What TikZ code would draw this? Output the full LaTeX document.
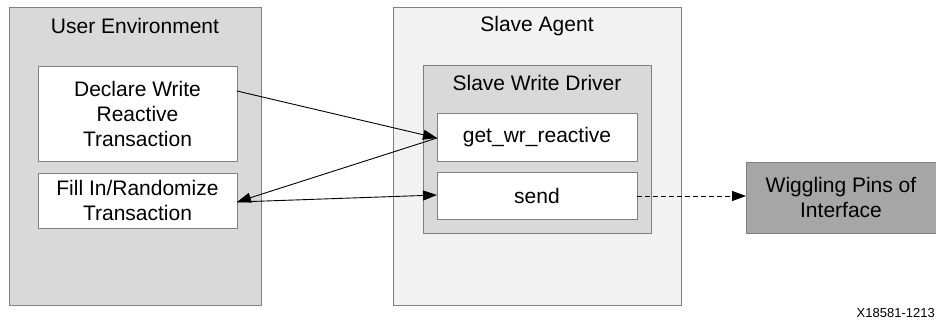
\documentclass[tikz,border=0pt]{standalone}
\usepackage{fontspec}
\setmainfont{Liberation Sans}
\usetikzlibrary{arrows.meta}
\definecolor{envgrey}{HTML}{D9D9D9}
\definecolor{agentgrey}{HTML}{F2F2F2}
\definecolor{pinsgrey}{HTML}{A6A6A6}
\definecolor{edgegrey}{HTML}{808080}
\tikzset{
  panel/.style={draw=edgegrey, line width=0.9pt},
  whitebox/.style={panel, fill=white},
  lbl/.style={font=\fontsize{21}{25}\selectfont, align=center, inner sep=0pt},
  conn/.style={line width=0.9pt, -{Triangle[length=14pt,width=10pt]}},
}
\begin{document}
\begin{tikzpicture}[x=1pt,y=-1pt]
\useasboundingbox (0,0) rectangle (936,321);
% containers
\draw[panel, fill=envgrey] (9,7) rectangle (261,305);
\node[lbl] (envt) at (135,26) {User Environment};
\draw[panel, fill=agentgrey] (393,7) rectangle (681,305);
\node[lbl] (agt) at (537,26) {Slave Agent};
\draw[panel, fill=envgrey] (423,65) rectangle (651,233);
\node[lbl] (drvt) at (537,83) {Slave Write Driver};
% boxes
\draw[whitebox] (38,66) rectangle (237,161);
\node[lbl] (decl) at (137.5,113.5) {Declare Write\\Reactive\\Transaction};
\coordinate (declR) at (237,91);
\draw[whitebox] (38,173) rectangle (237,228);
\node[lbl] (fill) at (137.5,200.5) {Fill In/Randomize\\Transaction};
\coordinate (fillR) at (237,202);
\draw[whitebox] (437,113) rectangle (637,161);
\node[lbl] (getwr) at (537,137) {get\_wr\_reactive};
\coordinate (getL) at (437,138);
\draw[whitebox] (437,172) rectangle (637,219);
\node[lbl] (send) at (537,195.5) {send};
\coordinate (sendL) at (437,195);
\coordinate (sendR) at (637,196);
\draw[panel, fill=pinsgrey] (746,162) rectangle (950,233);
\node[lbl] (pins) at (841,197.5) {Wiggling Pins of\\Interface};
\coordinate (pinsL) at (746,196);
% connectors
\draw[conn] (declR) -- (getL);
\draw[conn] (getL) -- (fillR);
\draw[conn] (fillR) -- (sendL);
\draw[conn, dashed, dash pattern=on 5pt off 3pt] (sendR) -- (pinsL);
% figure id
\node[anchor=base east, inner sep=0pt, font=\fontsize{13}{15}\selectfont] (fid) at (935,317) {X18581-1213};
\end{tikzpicture}
\end{document}
